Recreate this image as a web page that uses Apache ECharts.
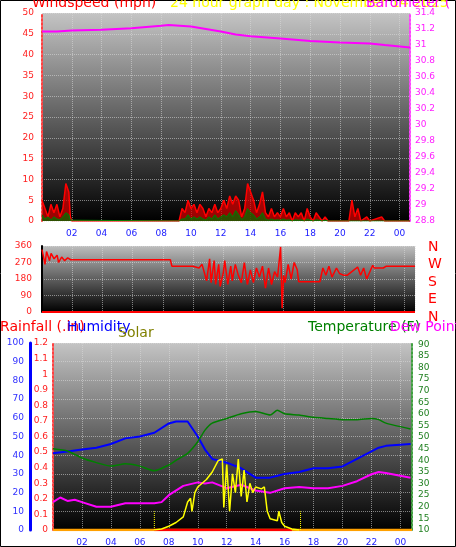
<!DOCTYPE html>
<html><head><meta charset="utf-8">
<script src="https://cdn.jsdelivr.net/npm/echarts@6/dist/echarts.min.js"></script>
<style>html,body{margin:0;padding:0;background:#fff}#main{width:456px;height:547px}</style>
</head><body><div id="main"></div>
<script>
// hours of day on the x axis, tick labels every 2 h
var hourTicks = ['02','04','06','08','10','12','14','16','18','20','22','00'];

// windspeed (mph)
var windT    = [0,0.2,0.4,0.6,0.8,1.0,1.2,1.4,1.6,1.8,1.9,2.0,9.2,9.4,9.6,9.8,10.0,10.2,10.4,10.6,10.8,11.0,11.2,11.4,11.6,11.8,12.0,12.2,12.4,12.6,12.8,13.0,13.2,13.4,13.6,13.8,14.0,14.2,14.4,14.6,14.8,15.0,15.2,15.4,15.6,15.8,16.0,16.2,16.4,16.6,16.8,17.0,17.2,17.4,17.6,17.8,18.0,18.2,18.4,18.6,18.8,19.0,19.2,20.6,20.8,21.0,21.2,21.4,21.8,22.0,22.8,23.0,24.7];
var windGust = [5,3,1,4,2,4,1,3,9,7,1,0,0,3,2,5,3,4,2,4,3,1,3,2,4,2,3,5,3,6,4,6,5,1,3,9,7,5,2,4,7,2,1,3,1,2,1,3,1,2,0,2,1,2,0,3,1,0,2,1,0,1,0,0,5,1,3,0,1,0,1,0,0];
var windAvg  = [1.5,0.5,1,0.3,1,0.5,0.3,1,2,1.5,0.2,0,0,0.5,0.5,1.5,0.5,1,0.5,1,0.5,0.2,1,0.5,1.5,0.5,1,1.5,1,2,1,2.5,1.5,0.3,1,3,2,1.5,0.5,1,2,0.5,0.2,0.5,0.2,0.3,0.2,0.5,0.2,0.3,0,0.3,0.2,0.3,0,0.5,0.2,0,0.3,0.2,0,0.2,0,0,0,0,0,0,0,0,0,0,0];

// barometer (in)
var baroT = [0,1,2,4,6,8,8.5,10,11,12,13,14,16,18,20,22,23,24.7];
var baroV = [31.17,31.17,31.18,31.19,31.21,31.24,31.25,31.23,31.2,31.17,31.13,31.11,31.08,31.05,31.03,31.02,31.0,30.97];

// wind direction (degrees)
var dirT = [0,0.2,0.3,0.5,0.6,0.8,1.0,1.1,1.3,1.5,1.7,1.9,2.0,8.5,8.6,10.0,10.4,10.6,10.8,10.9,11.1,11.2,11.4,11.5,11.7,11.8,12.0,12.1,12.3,12.5,12.6,12.8,13.0,13.2,13.4,13.6,13.8,14.0,14.2,14.4,14.6,14.8,15.0,15.2,15.4,15.6,15.8,15.9,16.0,16.1,16.3,16.5,16.7,16.9,17.0,18.4,18.6,18.8,19.0,19.2,19.5,19.7,20.0,20.2,20.9,21.1,21.3,21.5,21.9,22.0,22.6,22.8,24.7];
var dirV = [340,260,330,280,320,290,310,270,300,280,295,285,285,285,250,250,240,260,200,170,290,160,280,150,260,140,210,280,150,250,170,260,200,160,270,150,230,160,240,190,250,130,240,150,220,190,355,20,200,160,260,180,270,230,165,165,240,200,250,190,240,210,200,200,245,200,240,180,255,240,240,250,250];

// humidity (%), temperature and dew point (F), solar, rainfall (in)
var climT    = [0,1,2,3,4,5,6,7,8,8.5,9.3,10,10.5,11,12,13,14,15,15.5,16,17,18,19,20,21,22,22.5,23,24.7];
var humidity = [41,42,43,44,46,49,50,52,57,58,58,50,43,38,36,33,28,28,29,30,31,33,33,34,38,42,44,45,46];
var temp     = [45,44,41,39,37.5,38.5,37.5,35.5,38,40,43,48,53,56,58,60,61,59.5,61.5,60,59.5,58.5,58,57.5,57.5,58,57.5,56,53.5];
var dewT     = [0,0.5,1,1.5,2,3,4,5,6,7,7.5,8,9,10,10.5,11,12,13,14,15,16,17,18,19,20,21,22,22.5,23,24.7];
var dew      = [22,24,22.5,23,22,20,20,21.5,21.5,21.5,22,25,29,30.5,30,30.5,28,29.5,27,26,28,28.5,28,28,29,31,34,35,34.5,32.5];
var solarT   = [7,7.5,8,8.5,9,9.3,9.5,9.6,9.8,10,10.3,10.6,11,11.4,11.7,11.8,12,12.2,12.4,12.6,12.8,13,13.2,13.4,13.6,13.8,14,14.4,14.6,14.8,15,15.5,15.6,15.8,16,16.5,17];
var solar    = [0,0.5,2,4,7,15,17,10,20,23,25,27,31,37,38,12,35,10,30,20,38,18,32,15,25,20,23,22,23,10,6,5,10,4,2,0.5,0];
var sunTimes = [7.0, 17.1];
var rainT    = [0,24.8];
var rain     = [0,0];

function zip(t, v) { return t.map(function (x, i) { return [x, v[i]]; }); }

var sunMarks = [];
sunTimes.forEach(function (t) { sunMarks.push([t, 0], [t, 10], [null, null]); });

var bg = new echarts.graphic.LinearGradient(0, 0, 0, 1, [
  {offset: 0, color: '#c4c4c4'}, {offset: 0.45, color: '#6a6a6a'}, {offset: 1, color: '#000'}]);
var bgM = new echarts.graphic.LinearGradient(0, 0, 0, 1, [
  {offset: 0, color: '#bdbdbd'}, {offset: 1, color: '#000'}]);
var gridLine = {show: true, lineStyle: {color: 'rgba(220,220,220,0.55)', type: 'dotted'}};
var small = {fontSize: 9, fontFamily: 'DejaVu Sans'};

function xAxis(gi, max, show) {
  return {type: 'value', gridIndex: gi, min: 0, max: max, interval: 2,
    axisLine: {show: false}, axisTick: {show: false}, splitLine: gridLine,
    axisLabel: {show: show, color: '#2020ff', fontSize: 9, fontFamily: 'DejaVu Sans', margin: 8,
      showMinLabel: false, formatter: function (v) { return v ? hourTicks[v / 2 - 1] : ''; }}};
}
function yLine(color, type, width) {
  return {show: true, onZero: false, lineStyle: {color: color, type: type, width: width}};
}
function tl(x, y, text, color, size) {
  return {type: 'text', left: x, top: y, style: {text: text, fill: color, fontSize: size || 14, fontFamily: 'DejaVu Sans'}};
}

var option = {
  animation: false,
  backgroundColor: '#fff',
  grid: [
    {left: 42, right: 46, top: 13, bottom: 326, show: true, backgroundColor: bg, borderWidth: 0},
    {left: 42, right: 41, top: 246, bottom: 235, show: true, backgroundColor: bgM, borderWidth: 0},
    {left: 53, right: 44, top: 343, bottom: 17, show: true, backgroundColor: bg, borderWidth: 0}
  ],
  xAxis: [xAxis(0, 24.7, true), xAxis(1, 24.7, false), xAxis(2, 24.8, true)],
  yAxis: [
    {type: 'value', gridIndex: 0, min: 0, max: 50, interval: 5, position: 'left', splitLine: gridLine,
      axisLine: yLine('#ff4040', 'dotted', 2),
      axisTick: {show: false}, axisLabel: Object.assign({color: '#ff2020', margin: 8}, small)},
    {type: 'value', gridIndex: 0, min: 28.8, max: 31.4, interval: 0.2, position: 'right', splitLine: {show: false},
      axisLine: yLine('#ff40ff', 'dotted', 2),
      axisTick: {show: false}, axisLabel: Object.assign({color: '#ff20ff', margin: 5}, small)},
    {type: 'value', gridIndex: 1, min: 0, max: 360, interval: 90, position: 'left', splitLine: gridLine,
      axisLine: yLine('#000', 'solid', 2),
      axisTick: {show: false}, axisLabel: Object.assign({color: '#ff2020', margin: 10}, small)},
    {type: 'value', gridIndex: 2, min: 0, max: 100, interval: 10, position: 'left', offset: 23, splitLine: gridLine,
      axisLine: yLine('#0000ff', 'solid', 3),
      axisTick: {show: false}, axisLabel: Object.assign({color: '#3030ff', margin: 6}, small)},
    {type: 'value', gridIndex: 2, min: 0, max: 1.2, interval: 0.1, position: 'left', offset: 0, splitLine: {show: false},
      axisLine: yLine('#ff4040', 'dotted', 2),
      axisTick: {show: false}, axisLabel: Object.assign({color: '#ff2020', margin: 5,
        formatter: function (v) { return +v.toFixed(1) + ''; }}, small)},
    {type: 'value', gridIndex: 2, min: 10, max: 90.5, interval: 5, position: 'right', splitLine: {show: false},
      axisLine: yLine('#40a040', 'dotted', 2),
      axisTick: {show: false}, axisLabel: Object.assign({color: '#208020', margin: 6, showMaxLabel: false}, small)}
  ],
  series: [
    {type: 'line', xAxisIndex: 0, yAxisIndex: 0, data: zip(windT, windGust), symbol: 'none',
      lineStyle: {color: '#ff0000', width: 1.5}, areaStyle: {color: '#e00000'}},
    {type: 'line', xAxisIndex: 0, yAxisIndex: 0, data: zip(windT, windAvg), symbol: 'none',
      lineStyle: {color: '#008000', width: 1}, areaStyle: {color: '#007000'}},
    {type: 'line', xAxisIndex: 0, yAxisIndex: 1, data: zip(baroT, baroV), symbol: 'none',
      lineStyle: {color: '#ff00ff', width: 2}},
    {type: 'line', xAxisIndex: 1, yAxisIndex: 2, data: zip(dirT, dirV), symbol: 'none',
      lineStyle: {color: '#ff0000', width: 1.5}},
    {type: 'line', xAxisIndex: 1, yAxisIndex: 2, data: [[0, 0], [24.7, 0]], symbol: 'none',
      lineStyle: {color: '#ff0000', width: 2}},
    {type: 'line', xAxisIndex: 2, yAxisIndex: 4, data: zip(rainT, rain), symbol: 'none',
      lineStyle: {color: '#ffa000', width: 2.5}},
    {type: 'line', xAxisIndex: 2, yAxisIndex: 4, data: [[7, 0], [16.5, 0]], symbol: 'none',
      lineStyle: {color: '#ff0000', width: 2.5}},
    {type: 'line', xAxisIndex: 2, yAxisIndex: 3, data: zip(climT, humidity), symbol: 'none',
      lineStyle: {color: '#0000ff', width: 2}},
    {type: 'line', xAxisIndex: 2, yAxisIndex: 5, data: zip(climT, temp), symbol: 'none', smooth: 0.2,
      lineStyle: {color: '#008000', width: 1.5}},
    {type: 'line', xAxisIndex: 2, yAxisIndex: 5, data: zip(dewT, dew), symbol: 'none',
      lineStyle: {color: '#ff00ff', width: 2}},
    {type: 'line', xAxisIndex: 2, yAxisIndex: 3, data: zip(solarT, solar), symbol: 'none',
      lineStyle: {color: '#ffff00', width: 1.5}},
    {type: 'line', xAxisIndex: 2, yAxisIndex: 3, data: sunMarks, symbol: 'none', connectNulls: false,
      lineStyle: {color: '#ffff00', width: 1, type: 'dotted'}}
  ],
  graphic: [
    {type: 'rect', shape: {x: 0.5, y: 0.5, width: 455, height: 546}, style: {fill: 'none', stroke: '#000'}},
    tl(32, -4, 'Windspeed (mph)', '#ff0000'),
    tl(170, -4, '24 hour graph day : November 14 2025', '#ffff00'),
    tl(366, -4, 'Barometer ( in)', '#ff00ff'),
    tl(428, 240, 'N', '#ff0000', 14), tl(428, 257, 'W', '#ff0000', 14), tl(428, 275, 'S', '#ff0000', 14),
    tl(428, 292, 'E', '#ff0000', 14), tl(428, 310, 'N', '#ff0000', 14),
    tl(0, 320, 'Rainfall (.in)', '#ff0000'),
    tl(67, 320, 'Humidity', '#0000ff'),
    tl(118, 326, 'Solar', '#808000'),
    tl(308, 320, 'Temperature (F)', '#008000'),
    tl(390, 320, 'Dew Point (', '#ff00ff')
  ]
};
echarts.init(document.getElementById('main')).setOption(option);
</script></body></html>
